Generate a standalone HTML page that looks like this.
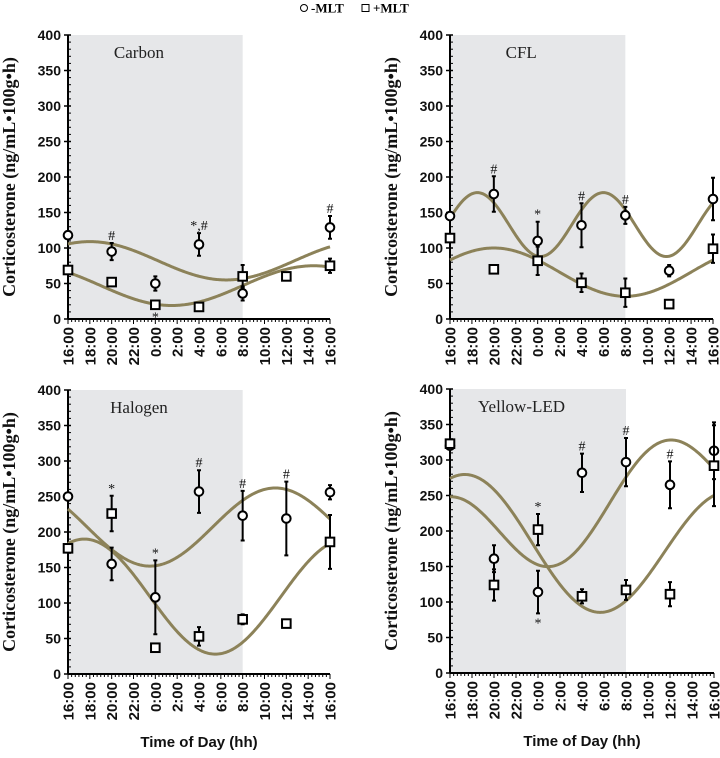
<!DOCTYPE html>
<html><head><meta charset="utf-8"><style>
html,body{margin:0;padding:0;background:#fff;}
svg{display:block;}
</style></head><body>
<svg id="chart" width="720" height="758" xmlns="http://www.w3.org/2000/svg">
<g font-family="Liberation Serif, serif" font-weight="bold" font-size="13">
  <circle cx="304" cy="8" r="3.5" fill="#fff" stroke="#000" stroke-width="1"/>
  <text x="311" y="12.5">-MLT</text>
  <rect x="362" y="4.5" width="7" height="7" fill="#fff" stroke="#000" stroke-width="1"/>
  <text x="373" y="12.5">+MLT</text>
</g>
</svg>
<script>
// time points in hours since 16:00
const hours = [0, 4, 8, 12, 16, 20, 24];
const xTickLabels = ["16:00","18:00","20:00","22:00","0:00","2:00","4:00","6:00","8:00","10:00","12:00","14:00","16:00"];
const yTicks = [0,50,100,150,200,250,300,350,400];
const panelNames = ["Carbon","CFL","Halogen","Yellow-LED"];

const carbonMinus = [118, 95, 50, 105, 36, null, 129];
const carbonMinusErr = [0, 12, 10, 16, 10, 0, 16];
const carbonPlus = [69, 52, 20, 17, 60, 60, 75];
const carbonPlusErr = [4, 5, 4, 3, 16, 5, 10];

const cflMinus = [145, 176, 110, 132, 146, 68, 169];
const cflMinusErr = [0, 25, 27, 31, 12, 8, 30];
const cflPlus = [114, 70, 82, 51, 37, 21, 99];
const cflPlusErr = [0, 4, 20, 13, 20, 4, 20];

const halMinus = [250, 155, 108, 257, 223, 219, 256];
const halMinusErr = [0, 23, 52, 30, 35, 52, 10];
const halPlus = [177, 226, 37, 53, 77, 71, 186];
const halPlusErr = [0, 25, 0, 13, 7, 4, 38];

const ledMinus = [320, 161, 114, 282, 297, 265, 313];
const ledMinusErr = [0, 19, 30, 27, 34, 33, 40];
const ledPlus = [323, 124, 202, 108, 117, 111, 292];
const ledPlusErr = [0, 22, 22, 10, 14, 17, 57];

// cosinor fit parameters: [mesor, amplitude, acrophase (h since 16:00), period (h), linear trend]
const carbonMinusFit = [82, 27, 2, 25, 0];
const carbonPlusFit = [47, 28, 22.5, 26, 0];
const cflMinusFit = [133, 45, 2.5, 11.5, 0];
const cflPlusFit = [66, 34, 4, 24, 0];
const halMinusFit = [207, 55, 19, 23, 0];
const halPlusFit = [109, 81, 1.5, 24, 0];
const ledMinusFit = [181, 68, 19.5, 20, 4.0];
const ledPlusFit = [190, 91, 1.5, 24, -1];

const carbonNotes = [[1,'m','#','above'],[3,'m','*,#','above'],[2,'p','*','below'],[6,'m','#','above']];
const cflNotes = [[1,'m','#','above'],[2,'m','*','above'],[3,'m','#','above'],[4,'m','#','above']];
const halNotes = [[1,'p','*','above'],[2,'m','*','above'],[3,'m','#','above'],[4,'m','#','above'],[5,'m','#','above']];
const ledNotes = [[2,'p','*','above'],[2,'m','*','below'],[3,'m','#','above'],[4,'m','#','above'],[5,'m','#','above']];

const NS = "http://www.w3.org/2000/svg";
const svg = document.getElementById('chart');
function mk(tag, attrs, parent){
  const e = document.createElementNS(NS, tag);
  for (const k in attrs) e.setAttribute(k, attrs[k]);
  (parent||svg).appendChild(e);
  return e;
}

const layouts = [
  {x0:68, x1:330, yb:319, yt:35},
  {x0:450, x1:713, yb:319, yt:35},
  {x0:68, x1:330, yb:674, yt:390},
  {x0:450, x1:714, yb:673, yt:389}
];
const panels = [
  [carbonMinus, carbonMinusErr, carbonPlus, carbonPlusErr, carbonMinusFit, carbonPlusFit, carbonNotes],
  [cflMinus, cflMinusErr, cflPlus, cflPlusErr, cflMinusFit, cflPlusFit, cflNotes],
  [halMinus, halMinusErr, halPlus, halPlusErr, halMinusFit, halPlusFit, halNotes],
  [ledMinus, ledMinusErr, ledPlus, ledPlusErr, ledMinusFit, ledPlusFit, ledNotes]
];

panels.forEach((p, pi) => {
  const L = layouts[pi];
  const xs = t => L.x0 + (L.x1 - L.x0) * t / 24;
  const ys = v => L.yb - (L.yb - L.yt) * v / 400;
  const g = mk('g', {});
  
  

  const shade = mk('rect', {x: xs(0), y: ys(400), width: xs(16) - xs(0), height: ys(0) - ys(400), fill: '#e6e7e9'}, g);
  
  

  const title = mk('text', {x: xs(6.5), y: ys(400) + 23, 'text-anchor': 'middle', 'font-family': 'Liberation Serif, serif', 'font-size': '17', fill: '#222'}, g);
  title.textContent = panelNames[pi];
  
  

  const yax = mk('line', {x1: L.x0, y1: ys(0), x2: L.x0, y2: ys(400), stroke: '#000', 'stroke-width': 2}, g);
  
  
  for (let v = 0; v <= 400; v += 10) {
    const major = v % 50 === 0;
    const t = mk('line', {x1: L.x0 - (major ? 4 : 0), x2: L.x0 + 3, y1: ys(v), y2: ys(v), stroke: '#000', 'stroke-width': major ? 1.5 : 1}, g);
    
    
  }
  yTicks.forEach(v => {
    const t = mk('text', {x: L.x0 - 7, y: ys(v) + 5, 'text-anchor': 'end', 'font-family': 'Liberation Sans, sans-serif', 'font-weight': 'bold', 'font-size': '14', fill: '#111'}, g);
    t.textContent = v;
    
    
  });
  const yl = mk('text', {x: 0, y: 0, transform: `translate(${L.x0 - 53},${(ys(0) + ys(400)) / 2}) rotate(-90)`, 'text-anchor': 'middle', 'font-family': 'Liberation Serif, serif', 'font-weight': 'bold', 'font-size': '18', fill: '#111'}, g);
  yl.textContent = 'Corticosterone (ng/mL•100g•h)';
  
  

  const xax = mk('line', {x1: L.x0, y1: ys(0), x2: L.x1, y2: ys(0), stroke: '#000', 'stroke-width': 2}, g);
  
  
  for (let i = 0; i <= 72; i++) {
    const t = mk('line', {x1: xs(i / 3), x2: xs(i / 3), y1: ys(0), y2: ys(0) + (i % 6 === 0 ? 5 : 3), stroke: '#000', 'stroke-width': 1}, g);
    
    
  }
  xTickLabels.forEach((lab, i) => {
    const t = mk('text', {x: 0, y: 0, transform: `translate(${xs(i * 2) + 5.5},${ys(0) + 8}) rotate(-90)`, 'text-anchor': 'end', 'font-family': 'Liberation Sans, sans-serif', 'font-weight': 'bold', 'font-size': '15', fill: '#111'}, g);
    t.textContent = lab;
    
    
  });
  if (pi >= 2) {
    const xt = mk('text', {x: (L.x0 + L.x1) / 2, y: ys(0) + 73, 'text-anchor': 'middle', 'font-family': 'Liberation Sans, sans-serif', 'font-weight': 'bold', 'font-size': '15', fill: '#111'}, g);
    xt.textContent = 'Time of Day (hh)';
    
    
  }

  [p[4], p[5]].forEach((f, fi) => {
    let d = '';
    for (let s = 0; s <= 240; s++) {
      const t = s / 10;
      const v = f[0] + f[4] * t + f[1] * Math.cos(2 * Math.PI * (t - f[2]) / f[3]);
      d += (s ? 'L' : 'M') + xs(t).toFixed(2) + ',' + ys(v).toFixed(2);
    }
    const c = mk('path', {d: d, fill: 'none', stroke: '#8c8259', 'stroke-width': 3}, g);
    
    
  });

  function series(vals, errs, kind) {
    vals.forEach((v, i) => {
      if (v === null) return;
      const x = xs(hours[i]), y = ys(v);
      if (errs[i] > 0) {
        const e = mk('path', {d: `M${x},${ys(v + errs[i])}L${x},${ys(v - errs[i])}M${x - 2},${ys(v + errs[i])}L${x + 2},${ys(v + errs[i])}M${x - 2},${ys(v - errs[i])}L${x + 2},${ys(v - errs[i])}`, stroke: '#000', 'stroke-width': 2, fill: 'none'}, g);
        
        
      }
      let m;
      if (kind === 'm') m = mk('circle', {cx: x, cy: y, r: 4.3, fill: '#fff', stroke: '#000', 'stroke-width': 2}, g);
      else m = mk('rect', {x: x - 4.3, y: y - 4.3, width: 8.6, height: 8.6, fill: '#fff', stroke: '#000', 'stroke-width': 2}, g);
      
      
    });
  }
  series(p[0], p[1], 'm');
  series(p[2], p[3], 'p');

  p[6].forEach(n => {
    const vals = n[1] === 'm' ? p[0] : p[2];
    const errs = n[1] === 'm' ? p[1] : p[3];
    const v = vals[n[0]];
    const x = xs(hours[n[0]]);
    let y;
    if (n[3] === 'above') y = ys(v + errs[n[0]]) - 3;
    else y = ys(v - errs[n[0]]) + 14;
    const t = mk('text', {x: x, y: y, 'text-anchor': 'middle', 'font-family': 'Liberation Serif, serif', 'font-size': '14', fill: '#111'}, g);
    t.textContent = n[2];
    
    
  });
});
</script>
</body></html>
